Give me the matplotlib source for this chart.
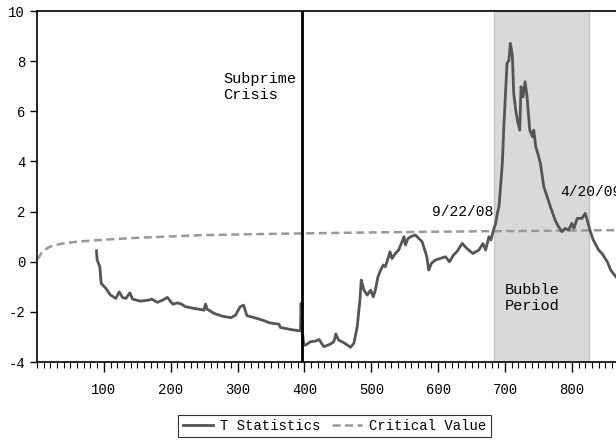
import matplotlib
matplotlib.use("Agg")
import matplotlib.pyplot as plt
from matplotlib.ticker import MultipleLocator

plt.rcParams["font.family"] = ["Liberation Mono", "DejaVu Sans Mono"]
plt.rcParams["axes.unicode_minus"] = False

# T statistics
t_x = [89, 90, 94, 96, 103, 110, 118, 123, 128, 133, 139, 143, 155, 167, 172, 180,
       188, 195, 203, 210, 216, 222, 235, 250, 252, 255, 265, 277, 290, 297, 304,
       309, 314, 329, 342, 347, 362, 364, 379, 394, 395, 397, 399, 402, 409, 417,
       422, 429, 439, 444, 447, 451, 459, 469, 474, 479, 483, 485, 489, 494, 499,
       503, 506, 510, 514, 518, 521, 525, 528, 531, 536, 541, 545, 549, 551, 555,
       559, 566, 571, 576, 580, 583, 586, 590, 596, 603, 611, 617, 623, 628, 636,
       643, 652, 661, 667, 671, 676, 679, 682, 686, 689, 691, 696, 698, 701, 703,
       706, 708, 711, 713, 716, 719, 722, 724, 727, 730, 733, 737, 741, 743, 746,
       749, 753, 758, 763, 768, 775, 780, 785, 790, 795, 800, 803, 808, 815, 820,
       823, 827, 832, 840, 845, 853, 858, 866]
t_stat = [0.44, 0.07, -0.2, -0.86, -1.06, -1.33, -1.46, -1.2, -1.43, -1.46, -1.24,
          -1.49, -1.57, -1.53, -1.49, -1.62, -1.53, -1.42, -1.69, -1.64, -1.69,
          -1.79, -1.86, -1.93, -1.69, -1.9, -2.06, -2.17, -2.23, -2.13, -1.79,
          -1.73, -2.15, -2.26, -2.37, -2.43, -2.49, -2.62, -2.7, -2.76, -1.66,
          -2.79, -3.32, -3.32, -3.19, -3.16, -3.1, -3.39, -3.28, -3.19, -2.88,
          -3.12, -3.23, -3.41, -3.25, -2.59, -1.53, -0.73, -1.13, -1.33, -1.13,
          -1.4, -1.13, -0.6, -0.33, -0.13, -0.2, 0.13, 0.4, 0.13, 0.33, 0.47,
          0.73, 1.0, 0.67, 0.93, 1.0, 1.07, 0.93, 0.8, 0.47, 0.2, -0.33, -0.06,
          0.07, 0.13, 0.2, 0.0, 0.27, 0.4, 0.73, 0.53, 0.33, 0.47, 0.73, 0.47,
          1.0, 0.87, 1.2, 1.53, 1.99, 2.19, 3.92, 5.25, 6.85, 7.91, 8.05, 8.71,
          8.24, 6.72, 6.05, 5.58, 5.25, 6.98, 6.58, 7.18, 6.58, 5.25, 4.99, 5.25,
          4.59, 4.32, 3.92, 2.99, 2.6, 2.19, 1.66, 1.4, 1.2, 1.33, 1.26, 1.53,
          1.33, 1.73, 1.73, 1.93, 1.66, 1.26, 0.87, 0.47, 0.33, 0.0, -0.33, -0.6]

# Critical value
cv_x = [1, 3, 6, 10, 18, 25, 35, 45, 60, 89, 120, 145, 200, 245, 300, 394, 500,
        600, 683, 780, 866]
cv = [0.1, 0.18, 0.32, 0.45, 0.58, 0.65, 0.71, 0.75, 0.8, 0.86, 0.91, 0.95,
      1.01, 1.06, 1.09, 1.13, 1.17, 1.2, 1.22, 1.24, 1.26]

crisis_x = 397
bubble_start, bubble_end = 683, 826

fig = plt.figure(figsize=(6.16, 4.41), dpi=100)
ax = fig.add_axes([0.060, 0.179, 0.940, 0.796])

ax.axvspan(bubble_start, bubble_end, facecolor="#d9d9d9", edgecolor="#c4c4c4",
           lw=1, zorder=0)
ax.axvline(crisis_x, color="black", lw=2, zorder=3)
ax.plot(cv_x, cv, color="#999999", lw=1.8, ls=(0, (3.2, 1.8)), label="Critical Value",
        zorder=2)
ax.plot(t_x, t_stat, color="#555555", lw=2, label="T Statistics", zorder=2)

ax.text(279, 7.55, "Subprime\nCrisis", fontsize=11, ha="left", va="top",
        linespacing=1.15)
ax.text(700, -0.85, "Bubble\nPeriod", fontsize=11, ha="left", va="top",
        linespacing=1.15)
ax.text(591, 1.98, "9/22/08", fontsize=10.5, ha="left", va="center")
ax.text(783, 2.79, "4/20/09", fontsize=10.5, ha="left", va="center")

ax.set_xlim(0, 866)
ax.set_ylim(-4, 10)
ax.xaxis.set_minor_locator(MultipleLocator(10))
ax.yaxis.set_major_locator(MultipleLocator(2))
ax.set_xticks([100, 200, 300, 400, 500, 600, 700, 800])
ax.tick_params(axis="x", which="major", direction="out", length=7, width=1,
               labelsize=10, pad=8)
ax.tick_params(axis="x", which="minor", direction="out", length=4, width=0.8)
ax.tick_params(axis="y", which="major", direction="out", length=5, width=1,
               labelsize=10)
ax.spines["right"].set_visible(False)
for s in ["left", "bottom", "top"]:
    ax.spines[s].set_linewidth(1.2)

handles, labels = ax.get_legend_handles_labels()
leg = fig.legend(handles[::-1], labels[::-1], loc="center", ncol=2,
                 bbox_to_anchor=(0.543, 0.034), fontsize=10,
                 frameon=True, fancybox=False, edgecolor="black",
                 handlelength=2.2, columnspacing=0.8, handletextpad=0.5,
                 borderpad=0.3)
leg.get_frame().set_linewidth(0.8)

fig.savefig("out.png", dpi=100)
